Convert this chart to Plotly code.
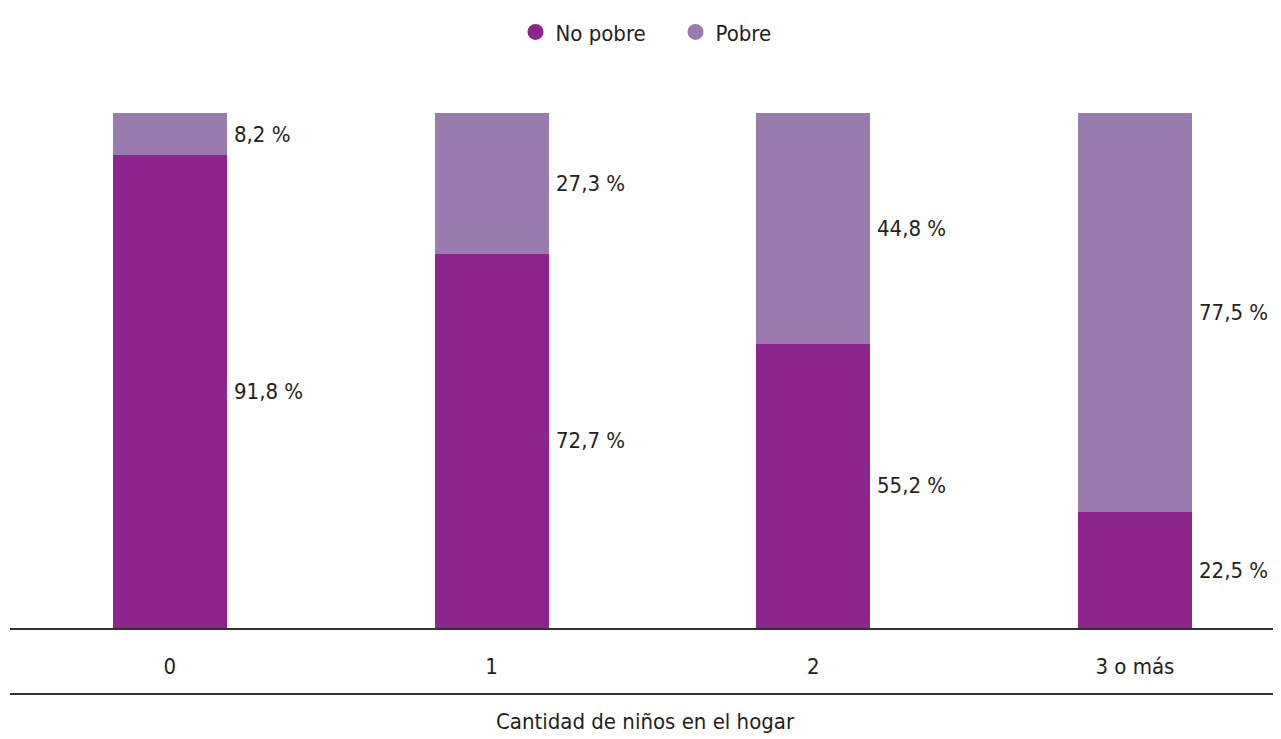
import plotly.graph_objects as go

categories = ["0", "1", "2", "3 o más"]
no_pobre = [91.8, 72.7, 55.2, 22.5]
pobre = [8.2, 27.3, 44.8, 77.5]
series_names = ["No pobre", "Pobre"]
colors = ["#8E248D", "#9A7BAE"]
x_title = "Cantidad de niños en el hogar"

FONT = "Liberation Sans Narrow, DejaVu Sans Condensed, Arial Narrow, sans-serif"
TXT = "#231F20"
FS = 22
xs = list(range(len(categories)))
bw = 0.354

fig = go.Figure()
for name, vals, col in zip(series_names, [no_pobre, pobre], colors):
    fig.add_trace(go.Bar(x=xs, y=vals, name=name, marker=dict(color=col, line=dict(width=0)),
                         width=bw, showlegend=False, hoverinfo="skip"))
    fig.add_trace(go.Scatter(x=[None], y=[None], mode="markers", name=name,
                             marker=dict(symbol="circle", size=16, color=col)))

def fmt(v):
    return f"{v:.1f}".replace(".", ",") + " %"

anns = []
for i, (a, b) in enumerate(zip(no_pobre, pobre)):
    for yv, v in [(a / 2, a), (a + b / 2, b)]:
        anns.append(dict(x=i + bw / 2, y=yv, text=fmt(v), xref="x", yref="y",
                         xanchor="left", yanchor="middle", xshift=5, showarrow=False,
                         font=dict(family=FONT, size=FS, color=TXT)))
anns.append(dict(x=0.5, y=-0.182, xref="paper", yref="paper", text=x_title,
                 showarrow=False, xanchor="center", yanchor="middle",
                 font=dict(family=FONT, size=FS, color=TXT)))

fig.update_layout(
    width=1273, height=731,
    barmode="stack",
    plot_bgcolor="white", paper_bgcolor="white",
    margin=dict(l=2, r=0, t=105, b=111, autoexpand=False),
    font=dict(family=FONT, size=FS, color=TXT),
    showlegend=True,
    legend=dict(orientation="h", x=0.5236, xanchor="center", y=1.157, yanchor="middle",
                font=dict(family=FONT, size=FS, color=TXT), itemsizing="trace",
                traceorder="normal", entrywidth=115, entrywidthmode="pixels"),
    xaxis=dict(range=[-0.497, 3.454], tickmode="array", tickvals=xs, ticktext=categories,
               showline=True, linecolor="#333333", linewidth=2, showgrid=False,
               zeroline=False, ticks="outside", ticklen=18, tickcolor="rgba(0,0,0,0)",
               automargin=False,
               tickfont=dict(family=FONT, size=FS, color=TXT)),
    yaxis=dict(range=[0, 100], visible=False, showgrid=False, zeroline=False),
    annotations=anns,
    shapes=[dict(type="line", xref="paper", yref="paper", x0=0, x1=1,
                 y0=-0.128, y1=-0.128, line=dict(color="#333333", width=2))],
)

fig.write_html("out.html")
